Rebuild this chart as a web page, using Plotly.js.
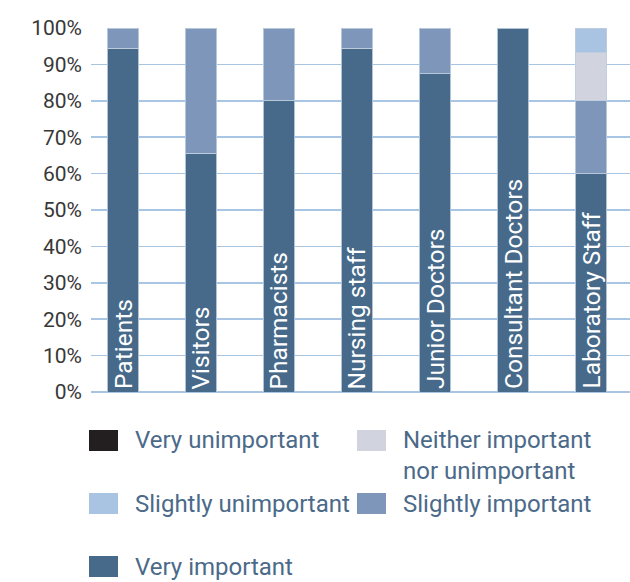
<!DOCTYPE html>
<html>
<head>
<meta charset="utf-8">
<script src="https://cdn.plot.ly/plotly-3.0.1.min.js"></script>
<style>html,body{margin:0;padding:0;background:#fff;}#chart{width:630px;height:582px;}</style>
</head>
<body>
<div id="chart"></div>
<script>
// ---- data ----
const categories = ['Patients', 'Visitors', 'Pharmacists', 'Nursing staff', 'Junior Doctors', 'Consultant Doctors', 'Laboratory Staff'];
const veryImportant       = [94.4, 65.6, 80, 94.4, 87.5, 100, 60];
const slightlyImportant   = [5.6, 34.4, 20, 5.6, 12.5, null, 20];
const neitherImportant    = [null, null, null, null, null, null, 13.3];
const slightlyUnimportant = [null, null, null, null, null, null, 6.7];
const veryUnimportant     = [null, null, null, null, null, null, null];

const seriesNames = ['Very important', 'Slightly important', 'Neither important nor unimportant', 'Slightly unimportant', 'Very unimportant'];
const seriesValues = [veryImportant, slightlyImportant, neitherImportant, slightlyUnimportant, veryUnimportant];
const seriesColors = ['#476a8a', '#7e96ba', '#d1d3df', '#a8c4e2', '#231f20'];

// ---- traces ----
const traces = seriesNames.map((name, i) => ({
  type: 'bar',
  name: name,
  x: categories,
  y: seriesValues[i],
  marker: {color: seriesColors[i], line: {color: 'rgba(190,205,222,0.9)', width: 1}},
  hoverinfo: 'skip',
  showlegend: false
}));

// ---- geometry helpers (pixel -> paper) ----
const W = 630, H = 582, ML = 91, MR = 0, MT = 28, MB = 190;
const PW = W - ML - MR, PH = H - MT - MB;
const px = x => (x - ML) / PW;
const py = y => (H - MB - y) / PH;

// category labels inside bars
const annotations = categories.map(c => ({
  x: c, y: 0, xref: 'x', yref: 'y',
  text: c, showarrow: false, textangle: -90,
  xanchor: 'center', yanchor: 'bottom', yshift: 1,
  font: {family: 'Roboto, sans-serif', size: 24.5, color: '#ffffff'}
}));

// custom legend
const legendOrder = [
  {name: 'Very unimportant', text: 'Very unimportant', col: 0, row: 0},
  {name: 'Neither important nor unimportant', text: 'Neither important<br>nor unimportant', col: 1, row: 0},
  {name: 'Slightly unimportant', text: 'Slightly unimportant', col: 0, row: 1},
  {name: 'Slightly important', text: 'Slightly important', col: 1, row: 1},
  {name: 'Very important', text: 'Very important', col: 0, row: 2}
];
const colX = [89, 357];
const rowY = [440.5, 503.5, 566.5];
const shapes = [];
legendOrder.forEach(item => {
  const color = seriesColors[seriesNames.indexOf(item.name)];
  const x0 = colX[item.col], y0 = rowY[item.row];
  shapes.push({
    type: 'rect', xref: 'paper', yref: 'paper',
    x0: px(x0), x1: px(x0 + 29), y0: py(y0 - 10.5), y1: py(y0 + 10.5),
    fillcolor: color, line: {width: 0}
  });
  annotations.push({
    xref: 'paper', yref: 'paper', x: px(x0 + 44), y: py(y0 - 16),
    text: item.text, showarrow: false, xanchor: 'left', yanchor: 'top', align: 'left',
    font: {family: 'Roboto, sans-serif', size: 24, color: '#4b6a89'}
  });
});

const layout = {
  width: W, height: H,
  margin: {l: ML, r: MR, t: MT, b: MB, pad: 0},
  paper_bgcolor: '#ffffff', plot_bgcolor: '#ffffff',
  barmode: 'stack', bargap: 0.6,
  showlegend: false,
  xaxis: {range: [-0.41, 6.5], showticklabels: false, showgrid: false, zeroline: false, showline: false, ticks: '', fixedrange: true},
  yaxis: {
    range: [0, 100], dtick: 10, tick0: 0, ticksuffix: '%',
    showgrid: true, gridcolor: '#a9c5e4', gridwidth: 1.5,
    zeroline: true, zerolinecolor: '#a9c5e4', zerolinewidth: 1.5,
    showline: false, ticks: '', ticklabelstandoff: 8,
    tickfont: {family: 'Roboto, sans-serif', size: 21, color: '#383838'},
    fixedrange: true
  },
  shapes: shapes,
  annotations: annotations
};

Plotly.newPlot('chart', traces, layout, {displayModeBar: false, staticPlot: true});
</script>
</body>
</html>
